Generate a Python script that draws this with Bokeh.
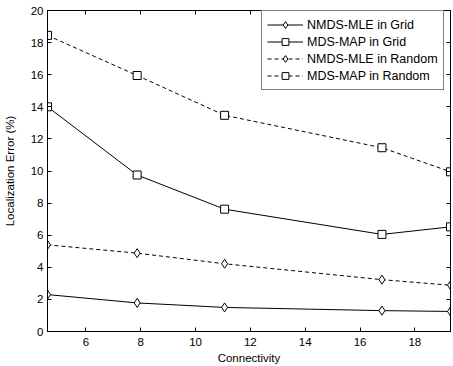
from bokeh.plotting import figure
from bokeh.models import Range1d, LinearAxis, FixedTicker, Legend, LegendItem
from bokeh.embed import file_html
from bokeh.resources import INLINE

connectivity = [4.6, 7.87, 11.06, 16.8, 19.3]
nmds_grid = [2.3, 1.78, 1.5, 1.3, 1.25]
mds_grid = [14.0, 9.75, 7.62, 6.05, 6.52]
nmds_random = [5.4, 4.88, 4.22, 3.23, 2.88]
mds_random = [18.45, 15.95, 13.47, 11.45, 9.95]

x_ticks = [6, 8, 10, 12, 14, 16, 18]
y_ticks = [0, 2, 4, 6, 8, 10, 12, 14, 16, 18, 20]

FONT = "Liberation Sans"
FS = "11.5px"

p = figure(width=453, height=366, output_backend="svg", toolbar_location=None,
           x_range=Range1d(min(connectivity), max(connectivity)),
           y_range=Range1d(0, 20),
           min_border_left=42, min_border_right=3, min_border_top=10, min_border_bottom=34)
p.xgrid.visible = False
p.ygrid.visible = False
p.outline_line_color = "black"
p.outline_line_width = 1
p.background_fill_color = "white"
p.border_fill_color = "white"

for ax, ticks in ((p.xaxis[0], x_ticks), (p.yaxis[0], y_ticks)):
    ax.ticker = FixedTicker(ticks=ticks)
    ax.major_tick_in = 4
    ax.major_tick_out = 0
    ax.minor_tick_line_color = None
    ax.axis_line_color = "black"
    ax.major_tick_line_color = "black"
    ax.major_label_text_font = FONT
    ax.major_label_text_font_size = FS
    ax.major_label_text_color = "black"
    ax.axis_label_text_font = FONT
    ax.axis_label_text_font_size = FS
    ax.axis_label_text_font_style = "normal"
    ax.axis_label_text_color = "black"
p.xaxis.axis_label = "Connectivity"
p.yaxis.axis_label = "Localization Error (%)"
p.xaxis.major_label_standoff = 6
p.yaxis.major_label_standoff = 4
p.xaxis.axis_label_standoff = 3
p.yaxis.axis_label_standoff = 12

top = LinearAxis(ticker=FixedTicker(ticks=x_ticks), major_tick_in=4, major_tick_out=0,
                 minor_tick_line_color=None, major_label_text_color=None,
                 major_label_text_font_size="1px", major_label_standoff=0,
                 axis_line_color="black")
right = LinearAxis(ticker=FixedTicker(ticks=y_ticks), major_tick_in=4, major_tick_out=0,
                   minor_tick_line_color=None, major_label_text_color=None,
                   major_label_text_font_size="1px", major_label_standoff=0,
                   axis_line_color="black")
p.add_layout(top, "above")
p.add_layout(right, "right")

series = [
    ("NMDS-MLE in Grid", nmds_grid, "diamond", "solid", 9),
    ("MDS-MAP in Grid", mds_grid, "square", "solid", 8),
    ("NMDS-MLE in Random", nmds_random, "diamond", "4 3", 9),
    ("MDS-MAP in Random", mds_random, "square", "4 3", 8),
]
items = []
for label, ys, marker, dash, size in series:
    l = p.line(connectivity, ys, line_color="black", line_width=1, line_dash=dash)
    s = p.scatter(connectivity, ys, marker=marker, size=size, fill_color="white",
                  line_color="black", line_width=1)
    items.append(LegendItem(label=label, renderers=[l, s]))

legend = Legend(items=items, location=(214, 241))
legend.label_text_font = FONT
legend.label_text_font_size = "12.5px"
legend.label_text_color = "black"
legend.label_height = 17
legend.glyph_height = 17
legend.glyph_width = 36
legend.label_standoff = 4
legend.spacing = 0
legend.padding = 5
legend.margin = 0
legend.border_line_color = "black"
legend.border_line_width = 1
legend.background_fill_alpha = 1
p.add_layout(legend, "center")

open("out.html", "w").write(file_html(p, INLINE))
